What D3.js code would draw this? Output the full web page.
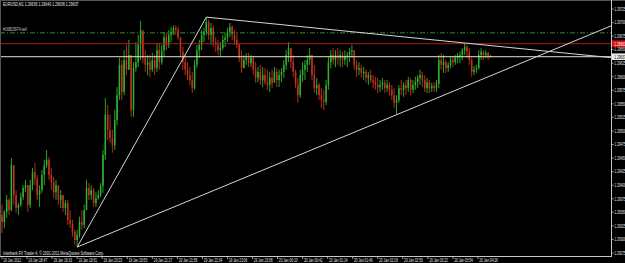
<!DOCTYPE html>
<html lang="en">
<head>
<meta charset="UTF-8">
<title>EURUSD,M1</title>
<script src="https://d3js.org/d3.v7.min.js"></script>
<style>
  html, body { margin: 0; padding: 0; background: #000; }
  svg { display: block; }
  text { font-family: "Liberation Sans", Arial, sans-serif; }
</style>
</head>
<body>
<div id="chart"></div>
<script>
// EURUSD M1, 19-20 Jan 2012 -- candles (one drawn candle per 3 minutes)
const title = "EURUSD,M1  1.29636 1.29640 1.29636 1.29637";
const copyright = "Interbank FX Trader 4, \u00a9 2001-2011 MetaQuotes Software Corp.";
const barMinutes = 3;
const firstOpen = 1.29345;

const highs = [
  1.29364,1.29354,1.29382,1.29376,1.29450,1.29437,1.29391,1.29367,1.29386,1.29400,
  1.29410,1.29400,1.29410,1.29432,1.29441,1.29419,1.29400,1.29428,1.29447,1.29465,
  1.29452,1.29432,1.29415,1.29410,1.29400,1.29391,1.29382,1.29373,1.29373,1.29354,
  1.29336,1.29318,1.29318,1.29342,1.29354,1.29364,1.29410,1.29404,1.29400,1.29395,
  1.29387,1.29391,1.29404,1.29465,1.29561,1.29548,1.29530,1.29502,1.29539,1.29581,
  1.29635,1.29631,1.29649,1.29659,1.29668,1.29640,1.29627,1.29664,1.29677,1.29703,
  1.29681,1.29649,1.29640,1.29640,1.29644,1.29640,1.29662,1.29662,1.29659,1.29683,
  1.29681,1.29686,1.29692,1.29695,1.29695,1.29692,1.29673,1.29655,1.29640,1.29627,
  1.29618,1.29609,1.29631,1.29659,1.29668,1.29686,1.29690,1.29710,1.29705,1.29699,
  1.29695,1.29673,1.29668,1.29664,1.29677,1.29681,1.29690,1.29699,1.29695,1.29686,
  1.29683,1.29662,1.29649,1.29640,1.29644,1.29644,1.29640,1.29637,1.29627,1.29618,
  1.29622,1.29618,1.29616,1.29613,1.29609,1.29613,1.29618,1.29616,1.29613,1.29616,
  1.29631,1.29649,1.29664,1.29653,1.29640,1.29613,1.29598,1.29613,1.29627,1.29631,
  1.29640,1.29653,1.29640,1.29622,1.29598,1.29589,1.29579,1.29576,1.29594,1.29637,
  1.29649,1.29653,1.29649,1.29653,1.29649,1.29646,1.29649,1.29646,1.29653,1.29659,
  1.29646,1.29631,1.29627,1.29622,1.29618,1.29613,1.29609,1.29613,1.29603,1.29600,
  1.29598,1.29594,1.29598,1.29594,1.29594,1.29590,1.29585,1.29579,1.29566,1.29585,
  1.29594,1.29590,1.29594,1.29600,1.29598,1.29594,1.29600,1.29603,1.29613,1.29609,
  1.29603,1.29598,1.29594,1.29589,1.29590,1.29594,1.29640,1.29644,1.29640,1.29631,
  1.29627,1.29637,1.29637,1.29640,1.29644,1.29646,1.29653,1.29662,1.29659,1.29653,
  1.29635,1.29620,1.29622,1.29649,1.29653,1.29649,1.29649,1.29646,1.29640
];
const lows = [
  1.29312,1.29321,1.29340,1.29345,1.29352,1.29364,1.29349,1.29345,1.29360,1.29373,
  1.29387,1.29351,1.29358,1.29391,1.29400,1.29373,1.29360,1.29386,1.29400,1.29432,
  1.29410,1.29391,1.29376,1.29373,1.29364,1.29358,1.29351,1.29345,1.29327,1.29321,
  1.29305,1.29290,1.29286,1.29303,1.29318,1.29321,1.29354,1.29373,1.29373,1.29360,
  1.29360,1.29373,1.29378,1.29386,1.29447,1.29483,1.29478,1.29460,1.29465,1.29511,
  1.29557,1.29557,1.29566,1.29603,1.29613,1.29526,1.29526,1.29609,1.29618,1.29631,
  1.29625,1.29609,1.29603,1.29600,1.29609,1.29603,1.29609,1.29613,1.29622,1.29637,
  1.29649,1.29653,1.29664,1.29677,1.29677,1.29668,1.29637,1.29613,1.29603,1.29594,
  1.29585,1.29570,1.29576,1.29616,1.29635,1.29649,1.29664,1.29677,1.29668,1.29659,
  1.29655,1.29646,1.29640,1.29637,1.29649,1.29655,1.29664,1.29673,1.29668,1.29659,
  1.29653,1.29627,1.29607,1.29616,1.29622,1.29618,1.29618,1.29603,1.29589,1.29590,
  1.29585,1.29581,1.29585,1.29576,1.29572,1.29579,1.29590,1.29581,1.29581,1.29590,
  1.29598,1.29613,1.29627,1.29616,1.29600,1.29579,1.29552,1.29561,1.29590,1.29594,
  1.29609,1.29622,1.29594,1.29570,1.29566,1.29557,1.29542,1.29539,1.29548,1.29576,
  1.29616,1.29622,1.29618,1.29622,1.29618,1.29618,1.29622,1.29618,1.29627,1.29635,
  1.29613,1.29600,1.29603,1.29598,1.29594,1.29589,1.29585,1.29589,1.29579,1.29576,
  1.29570,1.29572,1.29576,1.29570,1.29572,1.29566,1.29557,1.29542,1.29530,1.29552,
  1.29566,1.29563,1.29566,1.29572,1.29566,1.29570,1.29576,1.29579,1.29585,1.29581,
  1.29572,1.29570,1.29570,1.29572,1.29572,1.29572,1.29579,1.29613,1.29607,1.29607,
  1.29609,1.29616,1.29618,1.29622,1.29625,1.29625,1.29631,1.29640,1.29635,1.29622,
  1.29600,1.29603,1.29607,1.29613,1.29631,1.29631,1.29635,1.29631,1.29636
];
const closes = [
  1.29332,1.29351,1.29373,1.29354,1.29437,1.29382,1.29358,1.29364,1.29378,1.29395,
  1.29400,1.29364,1.29400,1.29424,1.29413,1.29382,1.29391,1.29419,1.29437,1.29447,
  1.29419,1.29406,1.29387,1.29400,1.29373,1.29382,1.29358,1.29367,1.29336,1.29329,
  1.29314,1.29299,1.29308,1.29332,1.29327,1.29354,1.29395,1.29382,1.29391,1.29367,
  1.29376,1.29382,1.29399,1.29456,1.29530,1.29502,1.29487,1.29474,1.29520,1.29566,
  1.29622,1.29572,1.29631,1.29613,1.29640,1.29539,1.29616,1.29627,1.29659,1.29686,
  1.29635,1.29622,1.29627,1.29613,1.29631,1.29616,1.29649,1.29627,1.29649,1.29673,
  1.29659,1.29677,1.29683,1.29690,1.29686,1.29673,1.29646,1.29627,1.29613,1.29603,
  1.29594,1.29579,1.29622,1.29649,1.29659,1.29677,1.29683,1.29701,1.29677,1.29690,
  1.29664,1.29659,1.29649,1.29653,1.29668,1.29672,1.29683,1.29692,1.29677,1.29668,
  1.29659,1.29635,1.29616,1.29631,1.29635,1.29625,1.29635,1.29613,1.29598,1.29609,
  1.29594,1.29603,1.29590,1.29585,1.29598,1.29589,1.29609,1.29594,1.29603,1.29609,
  1.29622,1.29640,1.29653,1.29627,1.29609,1.29585,1.29566,1.29603,1.29613,1.29622,
  1.29631,1.29640,1.29603,1.29579,1.29585,1.29566,1.29557,1.29554,1.29585,1.29627,
  1.29640,1.29631,1.29640,1.29635,1.29640,1.29631,1.29637,1.29640,1.29646,1.29649,
  1.29622,1.29613,1.29616,1.29607,1.29609,1.29598,1.29603,1.29594,1.29590,1.29585,
  1.29581,1.29585,1.29589,1.29579,1.29585,1.29576,1.29566,1.29552,1.29557,1.29579,
  1.29576,1.29585,1.29579,1.29594,1.29576,1.29585,1.29590,1.29598,1.29603,1.29594,
  1.29579,1.29590,1.29579,1.29583,1.29579,1.29587,1.29631,1.29622,1.29627,1.29616,
  1.29622,1.29631,1.29627,1.29635,1.29638,1.29640,1.29649,1.29655,1.29646,1.29631,
  1.29609,1.29613,1.29616,1.29640,1.29646,1.29640,1.29644,1.29636,1.29637
];

// price scale labels (right) and time labels (bottom, every 32 minutes)
const priceTicks = [1.29725,1.29700,1.29675,1.29650,1.29625,1.29600,1.29575,1.29550,1.29525,1.29500,
  1.29475,1.29450,1.29425,1.29400,1.29375,1.29350,1.29325,1.29300,1.29275];
const timeLabels = ["19 Jan 2012","19 Jan 18:47","19 Jan 19:19","19 Jan 19:51","19 Jan 20:23","19 Jan 20:55",
  "19 Jan 21:27","19 Jan 21:59","19 Jan 22:34","19 Jan 23:06","19 Jan 23:38","20 Jan 00:10","20 Jan 00:42",
  "20 Jan 01:14","20 Jan 01:46","20 Jan 02:18","20 Jan 02:50","20 Jan 03:22","20 Jan 03:54","20 Jan 04:26"];
const timeStep = 32;

// price lines
const orderPrice = 1.29681, orderLabel = "#16823974 sell";
const askPrice = 1.29661;
const bidPrice = 1.29637;

// trend lines: [minute, price] anchors, ray = extended to the right edge
const trendLines = [
  { a: [96, 1.29286], b: [261, 1.29710], ray: false },
  { a: [261, 1.29710], b: [600, 1.29661], ray: true },
  { a: [96, 1.29286], b: [504, 1.29530], ray: true }
];

const W = 625, H = 263;
const plotRight = 611, plotBottom = 256;
const bull = "#2db42d", bear = "#c2341e";
const fontSize = 4.9;

const svg = d3.select("#chart").append("svg")
  .attr("width", W).attr("height", H)
  .style("background", "#000");

const x = d3.scaleLinear().domain([0, 780]).range([2, 2 + 780 * 25.05 / 32]);
const y = d3.scaleLinear().domain([1.29275, 1.29725]).range([253, 9]);

svg.append("defs").append("clipPath").attr("id", "plot")
  .append("rect").attr("x", 1).attr("y", 1).attr("width", plotRight - 1).attr("height", plotBottom - 1);

// narrow MT4-like text
function label(sel, txt, squeeze = 0.72) {
  sel.text(txt).attr("font-size", fontSize);
  sel.each(function () {
    const w = this.getComputedTextLength();
    d3.select(this).attr("textLength", w * squeeze).attr("lengthAdjust", "spacingAndGlyphs");
  });
  return sel;
}

// frame
svg.append("line").attr("x1", 0).attr("x2", W).attr("y1", 0.5).attr("y2", 0.5)
  .attr("stroke", "#555").attr("stroke-width", 1);
svg.append("line").attr("x1", 0.5).attr("x2", 0.5).attr("y1", 0).attr("y2", plotBottom)
  .attr("stroke", "#555").attr("stroke-width", 1);

// candles
const bars = closes.map((c, i) => ({
  t: i * barMinutes,
  o: i ? closes[i - 1] : firstOpen,
  h: highs[i], l: lows[i], c: c
}));

const cg = svg.append("g").attr("clip-path", "url(#plot)");
cg.selectAll("line.wick").data(bars).join("line").attr("class", "wick")
  .attr("x1", d => x(d.t)).attr("x2", d => x(d.t))
  .attr("y1", d => y(d.h)).attr("y2", d => y(d.l))
  .attr("stroke", d => d.c >= d.o ? bull : bear)
  .attr("stroke-width", 0.9);
cg.selectAll("rect.body").data(bars).join("rect").attr("class", "body")
  .attr("x", d => x(d.t) - 0.75).attr("width", 1.5)
  .attr("y", d => y(Math.max(d.o, d.c)))
  .attr("height", d => Math.max(0.7, Math.abs(y(d.o) - y(d.c))))
  .attr("fill", d => d.c >= d.o ? bull : bear);

// horizontal price lines
const lg = svg.append("g").attr("clip-path", "url(#plot)");
lg.append("line").attr("x1", 0).attr("x2", plotRight)
  .attr("y1", y(orderPrice)).attr("y2", y(orderPrice))
  .attr("stroke", "#2f8f2f").attr("stroke-width", 1).attr("stroke-dasharray", "5,2,1,2");
lg.append("line").attr("x1", 0).attr("x2", plotRight)
  .attr("y1", y(askPrice)).attr("y2", y(askPrice))
  .attr("stroke", "#a81c1c").attr("stroke-width", 1);
lg.append("line").attr("x1", 0).attr("x2", plotRight)
  .attr("y1", y(bidPrice)).attr("y2", y(bidPrice))
  .attr("stroke", "#e4e4c8").attr("stroke-width", 1);

// trend lines
const tEdge = x.invert(plotRight);
trendLines.forEach(tl => {
  let end = tl.b;
  if (tl.ray) {
    const slope = (tl.b[1] - tl.a[1]) / (tl.b[0] - tl.a[0]);
    end = [tEdge, tl.a[1] + slope * (tEdge - tl.a[0])];
  }
  lg.append("line")
    .attr("x1", x(tl.a[0])).attr("y1", y(tl.a[1]))
    .attr("x2", x(end[0])).attr("y2", y(end[1]))
    .attr("stroke", "#d6d6d6").attr("stroke-width", 1);
});

// texts in the chart window
label(svg.append("text").attr("x", 3).attr("y", 6.2).attr("fill", "#e8e8e8"), title);
label(svg.append("text").attr("x", 3).attr("y", y(orderPrice) - 1.6).attr("fill", "#c8c8c8"), orderLabel);
label(svg.append("text").attr("x", 3).attr("y", 254.5).attr("fill", "#e8e8e8"), copyright);

// price axis
svg.append("line").attr("x1", plotRight + 0.5).attr("x2", plotRight + 0.5).attr("y1", 0).attr("y2", plotBottom + 0.5)
  .attr("stroke", "#c8c8c8").attr("stroke-width", 1);
const pa = svg.append("g");
priceTicks.forEach(v => {
  pa.append("line").attr("x1", plotRight).attr("x2", plotRight + 2.5)
    .attr("y1", y(v)).attr("y2", y(v)).attr("stroke", "#c8c8c8").attr("stroke-width", 0.8);
  label(pa.append("text").attr("x", plotRight + 3.2).attr("y", y(v) + 1.8).attr("fill", "#e0e0e0"), v.toFixed(5), 0.66);
});

// current price boxes
[[askPrice, "#e01010", "#ffffff"], [bidPrice, "#ececec", "#000000"]].forEach(([p, bg, fg]) => {
  pa.append("rect").attr("x", plotRight + 1).attr("y", y(p) - 3.3).attr("width", W - plotRight).attr("height", 6.6)
    .attr("fill", bg);
  label(pa.append("text").attr("x", plotRight + 3.2).attr("y", y(p) + 1.8).attr("fill", fg), p.toFixed(5), 0.66);
});

// time axis
svg.append("line").attr("x1", 0).attr("x2", plotRight + 1).attr("y1", plotBottom + 0.5).attr("y2", plotBottom + 0.5)
  .attr("stroke", "#c8c8c8").attr("stroke-width", 1);
const ta = svg.append("g");
timeLabels.forEach((s, k) => {
  const tx = x(k * timeStep);
  ta.append("line").attr("x1", tx).attr("x2", tx).attr("y1", plotBottom).attr("y2", plotBottom + 3)
    .attr("stroke", "#c8c8c8").attr("stroke-width", 0.8);
  label(ta.append("text").attr("x", tx + 1.3).attr("y", 261.8).attr("fill", "#e0e0e0"), s, 0.66);
});
</script>
</body>
</html>
